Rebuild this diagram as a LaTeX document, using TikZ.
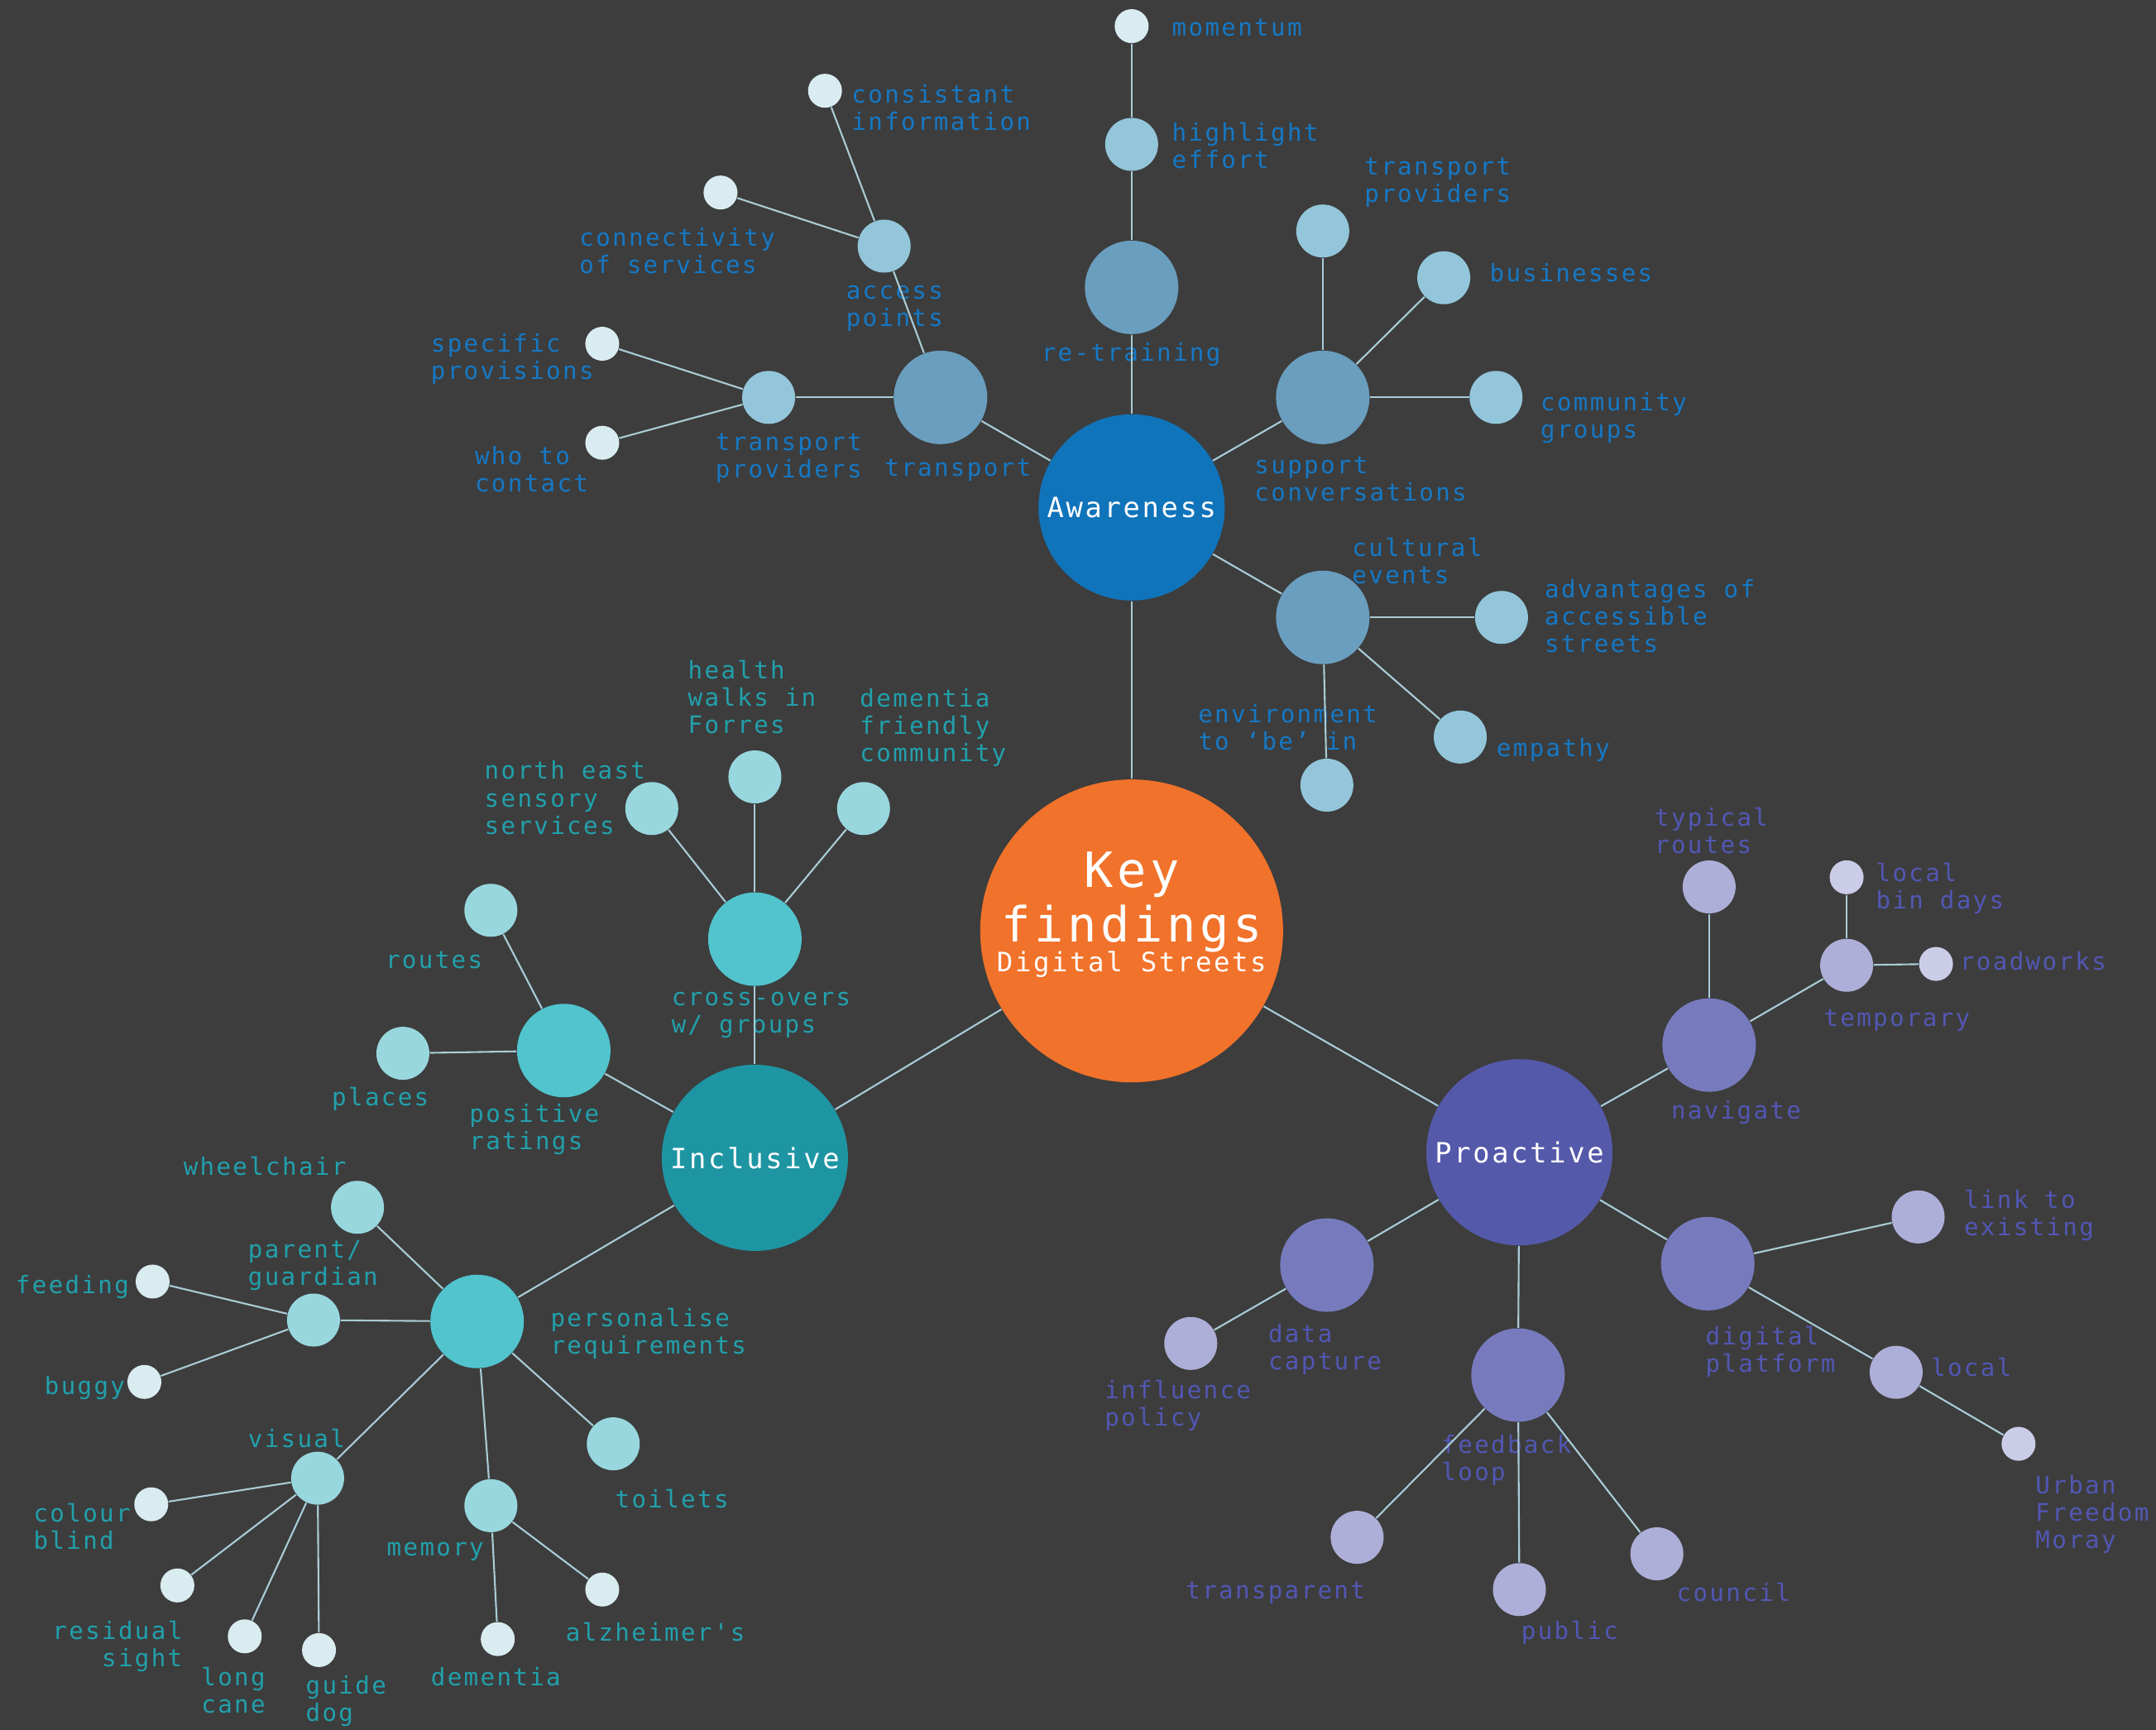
\documentclass[tikz,border=0pt]{standalone}
\usepackage{fontspec}
\newfontfamily\mono[LetterSpace=8]{DejaVu Sans Mono}

\definecolor{bgc}{HTML}{3D3D3D}
\definecolor{edgec}{HTML}{A9CCD6}
\definecolor{keyc}{HTML}{F1722A}
\definecolor{awA}{HTML}{1074BB}
\definecolor{awB}{HTML}{6A9EBF}
\definecolor{awC}{HTML}{93C6DB}
\definecolor{awD}{HTML}{D9ECF1}
\definecolor{awT}{HTML}{1678C4}
\definecolor{inA}{HTML}{1E95A3}
\definecolor{inB}{HTML}{51C4CE}
\definecolor{inC}{HTML}{98D7DE}
\definecolor{inD}{HTML}{D9ECF0}
\definecolor{inT}{HTML}{22A0AC}
\definecolor{prA}{HTML}{5559AA}
\definecolor{prB}{HTML}{777BBE}
\definecolor{prC}{HTML}{ADAFD8}
\definecolor{prD}{HTML}{CBCCE7}
\definecolor{prT}{HTML}{5257B3}

\tikzset{
    hub/.style={circle, inner sep=0pt, minimum size=2.25cm, text=white, font=\mono\fontsize{9.6}{11}\selectfont},
    big/.style={circle, inner sep=0pt, minimum size=1.13cm},
    mid/.style={circle, inner sep=0pt, minimum size=0.64cm},
    tiny/.style={circle, inner sep=0pt, minimum size=0.41cm},
    txt/.style={inner sep=0pt, align=left, anchor=west, yshift=-1pt, font=\mono\fontsize{8.3}{9.4}\selectfont},
}

\begin{document}
\begin{tikzpicture}
\begin{scope}[x=0.01662cm, y=-0.01662cm]
    \useasboundingbox (0,0) rectangle (1568,1258);
    \fill[bgc] (0,0) rectangle (1568,1258);

    % centre
    \node[circle, fill=keyc, minimum size=3.66cm, inner sep=0pt] (key) at (823,677) {};
    \node[text=white, align=center, font=\mono\fontsize{16.7}{19}\selectfont] (keytxt) at (823,665)
        {Key\\findings\\[-9pt]{\fontsize{9.2}{10}\selectfont Digital Streets}};

    % awareness
    \begin{scope}[every node/.append style={fill=awA}]
        \node[hub] (aw) at (823,369) {Awareness};
    \end{scope}
    \begin{scope}[every node/.append style={fill=awB}]
        \node[big] (retrain) at (823,209) {};
        \node[big] (transport) at (684,289) {};
        \node[big] (support) at (962,289) {};
        \node[big] (cultural) at (962,449) {};
    \end{scope}
    \begin{scope}[every node/.append style={fill=awC}]
        \node[mid] (highlight) at (823,105) {};
        \node[mid] (access) at (643,179) {};
        \node[mid] (tprovL) at (559,289) {};
        \node[mid] (tprovR) at (962,168) {};
        \node[mid] (business) at (1050,202) {};
        \node[mid] (community) at (1088,289) {};
        \node[mid] (advantage) at (1092,449) {};
        \node[mid] (empathy) at (1062,536) {};
        \node[mid] (environ) at (965,571) {};
    \end{scope}
    \begin{scope}[every node/.append style={fill=awD}]
        \node[tiny] (momentum) at (823,19) {};
        \node[tiny] (consist) at (600,66) {};
        \node[tiny] (connect) at (524,140) {};
        \node[tiny] (specific) at (438,250) {};
        \node[tiny] (whoto) at (438,322) {};
    \end{scope}
    \begin{scope}[every node/.append style={txt, text=awT}]
        \node (l-retrain) at (757,256) {re-training};
        \node (l-transport) at (643,340) {transport};
        \node (l-tprovL) at (520,331) {transport\\providers};
        \node (l-support) at (912,346) {support\\conversations};
        \node (l-cultural) at (983,406) {cultural\\events};
        \node (l-highlight) at (852,104) {highlight\\effort};
        \node (l-momentum) at (852,18) {momentum};
        \node (l-access) at (615,222) {access\\points};
        \node (l-consist) at (619,76) {consistant\\information};
        \node (l-connect) at (421,180) {connectivity\\of services};
        \node (l-specific) at (313,259) {specific\\provisions};
        \node (l-whoto) at (345,339) {who to\\contact};
        \node (l-tprovR) at (992,131) {transport\\providers};
        \node (l-business) at (1083,196) {businesses};
        \node (l-community) at (1120,302) {community\\groups};
        \node (l-advantage) at (1123,446) {advantages of\\accessible\\streets};
        \node (l-empathy) at (1088,543) {empathy};
        \node (l-environ) at (871,527) {environment\\to ‘be’ in};
    \end{scope}

    % inclusive
    \begin{scope}[every node/.append style={fill=inA}]
        \node[hub] (inc) at (549,842) {Inclusive};
    \end{scope}
    \begin{scope}[every node/.append style={fill=inB}]
        \node[big] (cross) at (549,683) {};
        \node[big] (positive) at (410,764) {};
        \node[big] (personal) at (347,961) {};
    \end{scope}
    \begin{scope}[every node/.append style={fill=inC}]
        \node[mid] (northeast) at (474,588) {};
        \node[mid] (health) at (549,565) {};
        \node[mid] (dfc) at (628,588) {};
        \node[mid] (routes) at (357,662) {};
        \node[mid] (places) at (293,766) {};
        \node[mid] (wheelchair) at (260,878) {};
        \node[mid] (parent) at (228,960) {};
        \node[mid] (visual) at (231,1075) {};
        \node[mid] (memory) at (357,1095) {};
        \node[mid] (toilets) at (446,1050) {};
    \end{scope}
    \begin{scope}[every node/.append style={fill=inD}]
        \node[tiny] (feeding) at (111,932) {};
        \node[tiny] (buggy) at (105,1005) {};
        \node[tiny] (colour) at (110,1094) {};
        \node[tiny] (residual) at (129,1153) {};
        \node[tiny] (cane) at (178,1190) {};
        \node[tiny] (guide) at (232,1200) {};
        \node[tiny] (dementia) at (362,1192) {};
        \node[tiny] (alz) at (438,1156) {};
    \end{scope}
    \begin{scope}[every node/.append style={txt, text=inT}]
        \node (l-cross) at (488,736) {cross-overs\\w/ groups};
        \node (l-positive) at (341,819) {positive\\ratings};
        \node (l-personal) at (400,968) {personalise\\requirements};
        \node (l-northeast) at (352,578) {north east\\sensory\\services};
        \node (l-health) at (500,505) {health\\walks in\\Forres};
        \node (l-dfc) at (625,527) {dementia\\friendly\\community};
        \node (l-routes) at (280,696) {routes};
        \node (l-places) at (241,797) {places};
        \node (l-wheelchair) at (133,846) {wheelchair};
        \node (l-parent) at (180,918) {parent/\\guardian};
        \node (l-visual) at (180,1044) {visual};
        \node (l-memory) at (281,1126) {memory};
        \node (l-toilets) at (447,1088) {toilets};
        \node (l-feeding) at (11,934) {feeding};
        \node (l-buggy) at (32,1007) {buggy};
        \node (l-colour) at (24,1108) {colour\\blind};
        \node[anchor=east, align=right] (l-residual) at (133,1195) {residual\\sight};
        \node (l-cane) at (146,1227) {long\\cane};
        \node (l-guide) at (222,1235) {guide\\dog};
        \node (l-dementia) at (313,1217) {dementia};
        \node (l-alz) at (411,1185) {alzheimer's};
    \end{scope}

    % proactive
    \begin{scope}[every node/.append style={fill=prA}]
        \node[hub] (pro) at (1105,838) {Proactive};
    \end{scope}
    \begin{scope}[every node/.append style={fill=prB}]
        \node[big] (navigate) at (1243,760) {};
        \node[big] (digital) at (1242,919) {};
        \node[big] (feedback) at (1104,1000) {};
        \node[big] (datacap) at (965,920) {};
    \end{scope}
    \begin{scope}[every node/.append style={fill=prC}]
        \node[mid] (typical) at (1243,645) {};
        \node[mid] (temporary) at (1343,702) {};
        \node[mid] (link) at (1395,885) {};
        \node[mid] (local) at (1379,998) {};
        \node[mid] (transparent) at (987,1118) {};
        \node[mid] (public) at (1105,1156) {};
        \node[mid] (council) at (1205,1130) {};
        \node[mid] (influence) at (866,977) {};
    \end{scope}
    \begin{scope}[every node/.append style={fill=prD}]
        \node[tiny] (bindays) at (1343,638) {};
        \node[tiny] (roadworks) at (1408,701) {};
        \node[tiny] (urban) at (1468,1050) {};
    \end{scope}
    \begin{scope}[every node/.append style={txt, text=prT}]
        \node (l-navigate) at (1215,807) {navigate};
        \node (l-digital) at (1240,981) {digital\\platform};
        \node (l-feedback) at (1048,1060) {feedback\\loop};
        \node (l-datacap) at (922,979) {data\\capture};
        \node (l-typical) at (1203,602) {typical\\routes};
        \node (l-temporary) at (1326,740) {temporary};
        \node (l-link) at (1428,882) {link to\\existing};
        \node (l-local) at (1404,992) {local};
        \node (l-transparent) at (862,1156) {transparent};
        \node (l-public) at (1106,1185) {public};
        \node (l-council) at (1219,1156) {council};
        \node (l-influence) at (803,1020) {influence\\policy};
        \node (l-bindays) at (1364,644) {local\\bin days};
        \node (l-roadworks) at (1425,697) {roadworks};
        \node (l-urban) at (1480,1099) {Urban\\Freedom\\Moray};
    \end{scope}

    \begin{scope}[every edge/.style={draw=edgec, line width=0.6pt}]
        \path [-] (key) edge (aw) edge (inc) edge (pro);
        \path [-] (aw) edge (retrain) edge (transport) edge (support) edge (cultural);
        \path [-] (retrain) edge (highlight);
        \path [-] (highlight) edge (momentum);
        \path [-] (transport) edge (access) edge (tprovL);
        \path [-] (access) edge (consist) edge (connect);
        \path [-] (tprovL) edge (specific) edge (whoto);
        \path [-] (support) edge (tprovR) edge (business) edge (community);
        \path [-] (cultural) edge (advantage) edge (empathy) edge (environ);
        \path [-] (inc) edge (cross) edge (positive) edge (personal);
        \path [-] (cross) edge (northeast) edge (health) edge (dfc);
        \path [-] (positive) edge (routes) edge (places);
        \path [-] (personal) edge (wheelchair) edge (parent) edge (visual) edge (memory) edge (toilets);
        \path [-] (parent) edge (feeding) edge (buggy);
        \path [-] (visual) edge (colour) edge (residual) edge (cane) edge (guide);
        \path [-] (memory) edge (dementia) edge (alz);
        \path [-] (pro) edge (navigate) edge (digital) edge (feedback) edge (datacap);
        \path [-] (navigate) edge (typical) edge (temporary);
        \path [-] (temporary) edge (bindays) edge (roadworks);
        \path [-] (digital) edge (link) edge (local);
        \path [-] (local) edge (urban);
        \path [-] (feedback) edge (transparent) edge (public) edge (council);
        \path [-] (datacap) edge (influence);
    \end{scope}
\end{scope}
\end{tikzpicture}
\end{document}
